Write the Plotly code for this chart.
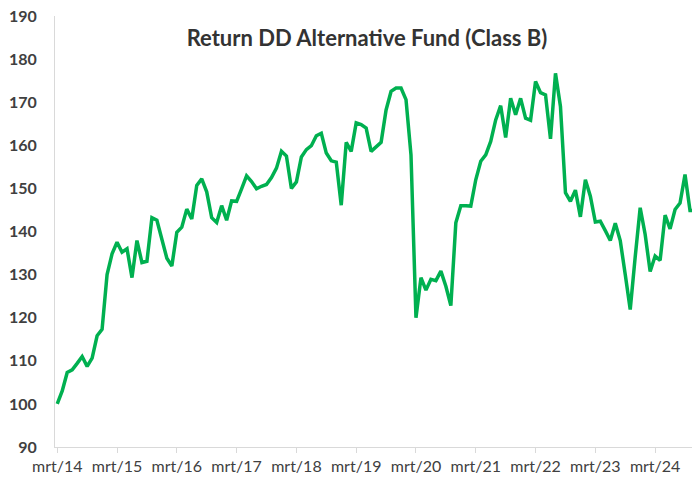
import plotly.graph_objects as go

title_text = "Return DD Alternative Fund (Class B)"
tick_labels = ["mrt/14", "mrt/15", "mrt/16", "mrt/17", "mrt/18", "mrt/19",
               "mrt/20", "mrt/21", "mrt/22", "mrt/23", "mrt/24"]
tick_positions = [0, 12, 24, 36, 48, 60, 72, 84, 96, 108, 120]

returns = [
    100.0, 103.0, 107.3, 107.9, 109.4, 111.0, 108.7, 110.6, 115.8, 117.3,
    130.0, 134.8, 137.5, 135.2, 136.0, 129.3, 137.9, 132.8, 133.1, 143.2,
    142.6, 138.5, 133.8, 132.0, 139.8, 141.0, 145.2, 142.9, 150.7, 152.2,
    149.2, 143.2, 142.1, 146.0, 142.6, 147.1, 147.0, 149.9, 152.9, 151.6,
    149.9, 150.5, 150.9, 152.5, 154.7, 158.6, 157.5, 150.0, 151.5, 157.3,
    159.0, 159.9, 162.2, 162.8, 158.2, 156.4, 156.1, 146.1, 160.7, 158.6,
    165.2, 164.8, 164.0, 158.6, 159.6, 160.7, 168.2, 172.5, 173.3, 173.3,
    170.6, 157.8, 120.0, 129.3, 126.4, 128.9, 128.6, 130.8, 127.3, 122.8,
    142.0, 146.0, 146.0, 145.9, 152.0, 156.3, 157.8, 160.9, 165.9, 169.2,
    161.8, 170.9, 167.1, 170.9, 166.3, 165.8, 174.8, 172.2, 171.7, 161.5,
    176.7, 169.0, 149.0, 147.0, 149.6, 143.4, 152.0, 148.2, 142.2, 142.4,
    140.2, 137.9, 141.9, 137.9, 130.0, 121.9, 134.1, 145.5, 139.3, 130.7,
    134.3, 133.3, 143.8, 140.6, 145.1, 146.6, 153.2, 144.9, 144.9,
]
months = list(range(len(returns)))

FONT = "Lato, 'Open Sans', sans-serif"

fig = go.Figure()
fig.add_trace(go.Scatter(
    x=months, y=returns, mode="lines",
    line=dict(color="#00B050", width=3.5),
    showlegend=False, hoverinfo="skip",
))

fig.update_layout(
    width=692, height=482,
    margin=dict(l=55, r=0, t=16, b=35, autoexpand=False),
    paper_bgcolor="white", plot_bgcolor="white",
    title=dict(
        text="<b>" + title_text + "</b>",
        font=dict(family=FONT, size=22, color="#333333"),
        xref="container", yref="container",
        x=367 / 692, xanchor="center",
        y=1 - 38 / 482, yanchor="middle",
    ),
    xaxis=dict(
        range=[-0.45, 127.4], automargin=False,
        tickmode="array", tickvals=tick_positions, ticktext=tick_labels,
        showgrid=False, zeroline=False,
        showline=True, linecolor="#d9d9d9", linewidth=1,
        ticks="outside", ticklen=5, tickcolor="#d9d9d9",
        tickfont=dict(family=FONT, size=16, color="#404040"),
    ),
    yaxis=dict(
        range=[90, 190], dtick=10, tick0=90, automargin=False,
        showgrid=False, zeroline=False,
        showline=True, linecolor="#d9d9d9", linewidth=1,
        ticks="", ticklabelstandoff=14,
        tickfont=dict(family=FONT, size=16, color="#404040", weight="bold"),
    ),
)

fig.write_html(
    "out.html",
    config={"displayModeBar": False},
    post_script="document.body.style.margin='0';document.body.style.padding='0';"
                "document.body.style.overflow='hidden';",
)
